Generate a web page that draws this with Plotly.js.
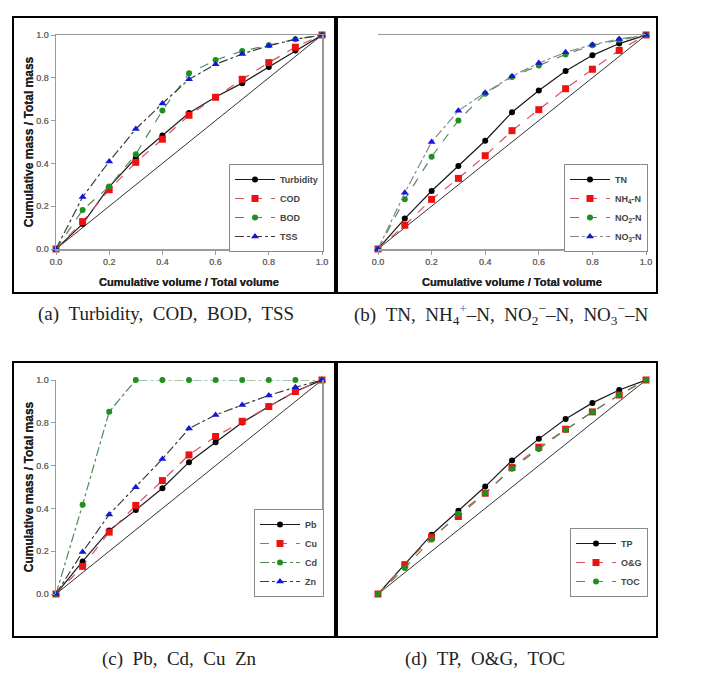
<!DOCTYPE html>
<html>
<head>
<meta charset="utf-8">
<script src="https://cdn.plot.ly/plotly-3.0.1.min.js"></script>
<style>
  html, body { margin: 0; padding: 0; background: #ffffff; }
  #chart { width: 709px; height: 673px; }
</style>
</head>
<body>
<div id="chart"></div>
<script>
// ---------- data ----------
const xVals = [0, 0.1, 0.2, 0.3, 0.4, 0.5, 0.6, 0.7, 0.8, 0.9, 1.0];
const diagX = [0, 1];
const diagY = [0, 1];

// (a)
const turbidity = [0, 0.117, 0.290, 0.425, 0.530, 0.635, 0.710, 0.775, 0.850, 0.927, 1.0];
const cod       = [0, 0.128, 0.277, 0.405, 0.513, 0.625, 0.709, 0.793, 0.871, 0.943, 1.0];
const bod       = [0, 0.182, 0.292, 0.443, 0.647, 0.821, 0.883, 0.925, 0.952, 0.980, 1.0];
const tss       = [0, 0.243, 0.409, 0.561, 0.680, 0.793, 0.863, 0.911, 0.950, 0.980, 1.0];

// (b)
const tn   = [0, 0.142, 0.271, 0.388, 0.506, 0.639, 0.741, 0.832, 0.905, 0.960, 1.0];
const nh4n = [0, 0.111, 0.232, 0.330, 0.436, 0.553, 0.651, 0.749, 0.840, 0.928, 1.0];
const no2n = [0, 0.232, 0.431, 0.601, 0.726, 0.804, 0.858, 0.909, 0.952, 0.977, 1.0];
const no3n = [0, 0.263, 0.500, 0.646, 0.730, 0.807, 0.869, 0.919, 0.955, 0.981, 1.0];

// (c)
const pb = [0, 0.152, 0.297, 0.393, 0.494, 0.616, 0.709, 0.801, 0.876, 0.946, 1.0];
const cu = [0, 0.129, 0.289, 0.414, 0.530, 0.650, 0.736, 0.807, 0.876, 0.946, 1.0];
const cd = [0, 0.417, 0.852, 1.0, 1.0, 1.0, 1.0, 1.0, 1.0, 1.0, 1.0];
const zn = [0, 0.196, 0.372, 0.499, 0.631, 0.773, 0.837, 0.883, 0.928, 0.966, 1.0];

// (d)
const tp  = [0, 0.137, 0.277, 0.389, 0.502, 0.624, 0.725, 0.818, 0.893, 0.953, 1.0];
const og  = [0, 0.137, 0.266, 0.362, 0.471, 0.591, 0.686, 0.770, 0.851, 0.930, 1.0];
const toc = [0, 0.121, 0.255, 0.375, 0.471, 0.585, 0.678, 0.767, 0.851, 0.930, 1.0];

const tickVals = [0, 0.2, 0.4, 0.6, 0.8, 1.0];
const tickText = ["0.0", "0.2", "0.4", "0.6", "0.8", "1.0"];

const SP = "\u2002";
const captions = [
  "(a)" + SP + "Turbidity," + SP + "COD," + SP + "BOD," + SP + "TSS",
  "(b)" + SP + "TN," + SP + "NH<sub>4</sub><span style=\"color:#3a5fc8\"><sup>+</sup></span>\u2013N," + SP + "NO<sub>2</sub><sup>\u2212</sup>\u2013N," + SP + "NO<sub>3</sub><sup>\u2212</sup>\u2013N",
  "(c)" + SP + "Pb," + SP + "Cd," + SP + "Cu" + SP + "Zn",
  "(d)" + SP + "TP," + SP + "O&amp;G," + SP + "TOC"
];

// ---------- styles ----------
const W = 709, H = 673;
const px = v => v / W;
const py = v => 1 - v / H;

const styles = {
  black: { line: { color: "#1a1a1a", width: 1.2, dash: "solid" }, marker: { symbol: "circle", color: "#000000", size: 6 } },
  red:   { line: { color: "#d9535f", width: 1.2, dash: "dash" },  marker: { symbol: "square", color: "#ee1111", size: 7 } },
  green: { line: { color: "#4f8a55", width: 1.2, dash: "dash" },  marker: { symbol: "circle", color: "#1f8f1f", size: 6 } },
  greenDD: { line: { color: "#4f8a55", width: 1.2, dash: "dashdot" },  marker: { symbol: "circle", color: "#1f8f1f", size: 6 } },
  blue:  { line: { color: "#3a3a3a", width: 1.2, dash: "dashdot" }, marker: { symbol: "triangle-up", color: "#1515e0", size: 7 } },
  blueLight: { line: { color: "#888888", width: 1.2, dash: "dashdot" }, marker: { symbol: "triangle-up", color: "#1515e0", size: 7 } }
};

function series(name, y, style, n) {
  const s = styles[style];
  return {
    type: "scatter", mode: "lines+markers", name: name,
    x: xVals, y: y,
    xaxis: n === 1 ? "x" : "x" + n, yaxis: n === 1 ? "y" : "y" + n,
    legend: n === 1 ? "legend" : "legend" + n,
    line: s.line, marker: s.marker, cliponaxis: false
  };
}
function diag(n) {
  return {
    type: "scatter", mode: "lines", x: diagX, y: diagY, showlegend: false,
    xaxis: n === 1 ? "x" : "x" + n, yaxis: n === 1 ? "y" : "y" + n,
    line: { color: "#333333", width: 1 }, hoverinfo: "skip"
  };
}

const data = [
  diag(1), diag(2), diag(3), diag(4),
  series("Turbidity", turbidity, "black", 1),
  series("COD", cod, "red", 1),
  series("BOD", bod, "green", 1),
  series("TSS", tss, "blue", 1),
  series("TN", tn, "black", 2),
  series("NH<sub>4</sub>-N", nh4n, "red", 2),
  series("NO<sub>2</sub>-N", no2n, "green", 2),
  series("NO<sub>3</sub>-N", no3n, "blueLight", 2),
  series("Pb", pb, "black", 3),
  series("Cu", cu, "red", 3),
  series("Cd", cd, "greenDD", 3),
  series("Zn", zn, "blue", 3),
  series("TP", tp, "black", 4),
  series("O&amp;G", og, "red", 4),
  series("TOC", toc, "green", 4)
];

// plot areas (pixels)
const areas = [
  { x0: 56, x1: 322, y0: 35, y1: 249 },
  { x0: 378, x1: 646, y0: 35, y1: 249 },
  { x0: 56, x1: 322, y0: 380, y1: 594 },
  { x0: 378, x1: 646, y0: 380, y1: 594 }
];
const boxes = [
  { x0: 13, x1: 335, y0: 17, y1: 293 },
  { x0: 337, x1: 657, y0: 17, y1: 293 },
  { x0: 13, x1: 335, y0: 362, y1: 637 },
  { x0: 337, x1: 657, y0: 362, y1: 637 }
];
const captionPos = [
  { x: 166, y: 314 }, { x: 501, y: 314 }, { x: 179, y: 659 }, { x: 485, y: 659 }
];

const axisFont = { family: "Arial, 'Liberation Sans', sans-serif", size: 9, color: "#6a6a6a" };
const xTitleFont = { family: "Arial, 'Liberation Sans', sans-serif", size: 11.2, color: "#222222", weight: "bold" };
const yTitleFont = { family: "Arial, 'Liberation Sans', sans-serif", size: 12, color: "#222222", weight: "bold" };

function xaxis(a) {
  return {
    domain: [px(a.x0), px(a.x1)], range: [0, 1], showgrid: false, zeroline: false,
    showline: true, mirror: true, linecolor: "#9a9a9a", linewidth: 1.5,
    ticks: "outside", ticklen: 4, tickcolor: "#9a9a9a", tickwidth: 1,
    tickvals: tickVals, ticktext: tickText, tickfont: axisFont,
    title: { text: "Cumulative volume / Total volume", font: xTitleFont, standoff: 12 },
    fixedrange: true
  };
}
function yaxis(a) {
  return {
    domain: [py(a.y1), py(a.y0)], range: [0, 1], showgrid: false, zeroline: false,
    showline: true, mirror: true, linecolor: "#9a9a9a", linewidth: 1.5,
    ticks: "outside", ticklen: 4, tickcolor: "#9a9a9a", tickwidth: 1,
    tickvals: tickVals, ticktext: tickText, tickfont: axisFont,
    title: { text: "Cumulative mass / Total mass", font: yTitleFont, standoff: 0 },
    fixedrange: true
  };
}
function legend(a) {
  return {
    x: px(a.x1 + 2), y: py(a.y1 + 3), xanchor: "right", yanchor: "bottom",
    xref: "paper", yref: "paper",
    bgcolor: "#ffffff", bordercolor: "#8a8a8a", borderwidth: 1,
    font: { family: "Arial, 'Liberation Sans', sans-serif", size: 9, color: "#444444", weight: "bold" },
    tracegroupgap: 0, itemwidth: 40
  };
}

const layout = {
  width: W, height: H,
  margin: { l: 0, r: 0, t: 0, b: 0 },
  paper_bgcolor: "#ffffff", plot_bgcolor: "#ffffff",
  showlegend: true,
  xaxis: xaxis(areas[0]), yaxis: yaxis(areas[0]),
  xaxis2: xaxis(areas[1]), yaxis2: yaxis(areas[1]),
  xaxis3: xaxis(areas[2]), yaxis3: yaxis(areas[2]),
  xaxis4: xaxis(areas[3]), yaxis4: yaxis(areas[3]),
  legend: legend(areas[0]), legend2: legend(areas[1]),
  legend3: legend(areas[2]), legend4: legend(areas[3]),
  shapes: boxes.map(b => ({
    type: "rect", xref: "paper", yref: "paper",
    x0: px(b.x0), x1: px(b.x1), y0: py(b.y1), y1: py(b.y0),
    line: { color: "#000000", width: 2 }, fillcolor: "rgba(0,0,0,0)", layer: "above"
  })),
  annotations: captions.map((t, i) => ({
    text: t, xref: "paper", yref: "paper",
    x: px(captionPos[i].x), y: py(captionPos[i].y), xanchor: "center", yanchor: "middle",
    showarrow: false,
    font: { family: "'Liberation Serif', 'DejaVu Serif', serif", size: 19, color: "#222222" }
  }))
};

Plotly.newPlot("chart", data, layout, { displayModeBar: false, staticPlot: true });
</script>
</body>
</html>
